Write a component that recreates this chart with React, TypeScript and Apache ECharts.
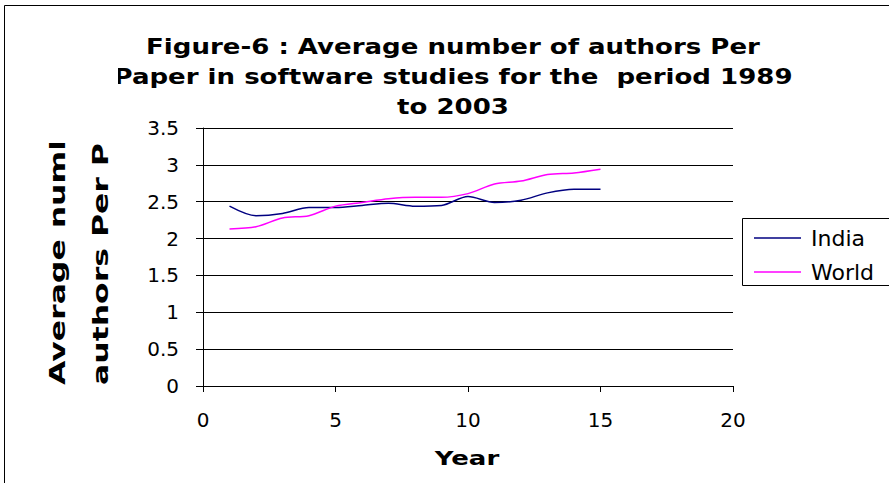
import React, { useEffect, useRef } from "react";
import * as echarts from "echarts";

// Publication years are indexed 1..15 (1989 to 2003)
const years = [1, 2, 3, 4, 5, 6, 7, 8, 9, 10, 11, 12, 13, 14, 15];
const india = [2.44, 2.31, 2.34, 2.42, 2.42, 2.45, 2.48, 2.44, 2.45, 2.57, 2.49, 2.52, 2.62, 2.67, 2.67];
const world = [2.13, 2.16, 2.28, 2.31, 2.44, 2.49, 2.54, 2.56, 2.56, 2.61, 2.74, 2.78, 2.87, 2.89, 2.94];
const seriesNames = ["India", "World"];
const titleLines = [
  "Figure-6 : Average number of authors Per",
  "Paper in software studies for the  period 1989",
  "to 2003",
];
const yTitleLines = ["Average number of", "authors Per Paper"];
const xTitle = "Year";

const FONT = "DejaVu Sans, Verdana, sans-serif";

export default function App() {
  const ref = useRef<HTMLDivElement>(null);

  useEffect(() => {
    if (!ref.current) return;
    const chart = echarts.init(ref.current, undefined, { renderer: "svg" });

    const toPairs = (vals: number[]) => years.map((y, i) => [y, vals[i]]);

    chart.setOption({
      animation: false,
      backgroundColor: "#ffffff",
      grid: { left: 203, right: 156, top: 128, height: 258 },
      xAxis: {
        type: "value",
        min: 0,
        max: 20,
        interval: 5,
        axisLine: { show: true, lineStyle: { color: "#000", width: 1 } },
        axisTick: { show: true, inside: false, length: 6, lineStyle: { color: "#000" } },
        axisLabel: { color: "#000", fontFamily: FONT, fontSize: 20, margin: 24 },
        splitLine: { show: false },
      },
      yAxis: {
        type: "value",
        min: 0,
        max: 3.5,
        interval: 0.5,
        axisLine: { show: true, lineStyle: { color: "#000", width: 1 } },
        axisTick: { show: true, inside: false, length: 7, lineStyle: { color: "#000" } },
        axisLabel: { color: "#000", fontFamily: FONT, fontSize: 20, margin: 24 },
        splitLine: { show: true, lineStyle: { color: "#000", width: 1 } },
      },
      legend: {
        orient: "vertical",
        left: 749,
        top: 222,
        icon: "rect",
        itemWidth: 47,
        itemHeight: 1.5,
        itemGap: 12,
        data: seriesNames,
        textStyle: { color: "#000", fontFamily: FONT, fontSize: 22, padding: [0, 0, 0, 5] },
      },
      series: [
        {
          name: seriesNames[0],
          type: "line",
          smooth: 0.3,
          symbol: "none",
          data: toPairs(india),
          lineStyle: { color: "#000080", width: 1.5 },
          itemStyle: { color: "#000080" },
        },
        {
          name: seriesNames[1],
          type: "line",
          smooth: 0.3,
          symbol: "none",
          data: toPairs(world),
          lineStyle: { color: "#ff00ff", width: 1.5 },
          itemStyle: { color: "#ff00ff" },
        },
      ],
      graphic: [
        // outer chart frame
        {
          type: "rect",
          shape: { x: 4.5, y: 5.5, width: 900, height: 500 },
          style: { fill: "none", stroke: "#000", lineWidth: 1 },
          silent: true,
          z: -1,
        },
        // legend frame
        {
          type: "rect",
          shape: { x: 742.5, y: 218.5, width: 160, height: 67 },
          style: { fill: "none", stroke: "#000", lineWidth: 1 },
          silent: true,
        },
        ...titleLines.map((t, i) => ({
          type: "text",
          x: 453,
          y: 47 + i * 30,
          scaleX: 1.24,
          style: {
            text: t,
            fill: "#000",
            font: `bold 21px ${FONT}`,
            textAlign: "center",
            textVerticalAlign: "middle",
          },
        })),
        ...yTitleLines.map((t, i) => ({
          type: "text",
          x: 58 + i * 43,
          y: 385,
          rotation: Math.PI / 2,
          scaleX: 1.5,
          style: {
            text: t,
            fill: "#000",
            font: `bold 21px ${FONT}`,
            textAlign: "left",
            textVerticalAlign: "middle",
          },
          z: 5,
        })),
        // the axis title box cuts its text off at the top
        {
          type: "rect",
          shape: { x: 36, y: 8, width: 82, height: 135 },
          style: { fill: "#fff" },
          silent: true,
          z: 6,
        },
        {
          type: "text",
          x: 467,
          y: 458,
          scaleX: 1.3,
          style: {
            text: xTitle,
            fill: "#000",
            font: `bold 20px ${FONT}`,
            textAlign: "center",
            textVerticalAlign: "middle",
          },
        },
      ],
    });

    return () => chart.dispose();
  }, []);

  return (
    <div
      ref={ref}
      style={{ position: "fixed", left: 0, top: 0, width: 889, height: 483 }}
    />
  );
}
